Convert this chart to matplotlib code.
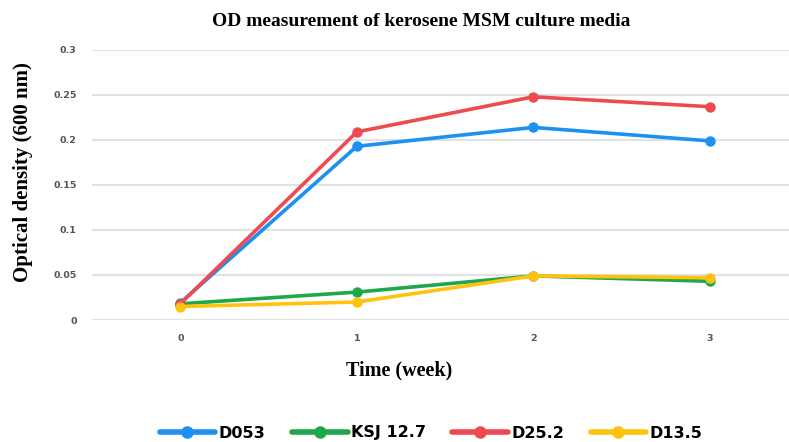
import matplotlib
matplotlib.use("Agg")
import matplotlib.pyplot as plt

weeks = [0, 1, 2, 3]
week_labels = ["0", "1", "2", "3"]
series_names = ["D053", "KSJ 12.7", "D25.2", "D13.5"]
d053 = [0.019, 0.193, 0.214, 0.199]
ksj127 = [0.018, 0.031, 0.049, 0.043]
d252 = [0.018, 0.209, 0.248, 0.237]
d135 = [0.015, 0.020, 0.049, 0.047]
yticks = [0, 0.05, 0.1, 0.15, 0.2, 0.25, 0.3]
ytick_labels = ["0", "0.05", "0.1", "0.15", "0.2", "0.25", "0.3"]

colors = ["#1E90F0", "#1EA84A", "#EE4B50", "#FFC20E"]

W, H = 789, 442
fig = plt.figure(figsize=(W / 100, H / 100), dpi=100)
ax = fig.add_axes([92 / W, 1 - 320 / H, (789 - 92) / W, (320 - 50) / H])

for vals, name, c in zip([d053, ksj127, d252, d135], series_names, colors):
    ax.plot(weeks, vals, color=c, lw=2.6, marker="o", ms=6.5, label=name,
            solid_capstyle="round")

ax.set_xlim(-0.5, 3 + 79 / 176.5)
ax.set_ylim(0, 0.3)
ax.set_yticks(yticks)
ax.set_yticklabels(ytick_labels)
ax.set_xticks(weeks)
ax.set_xticklabels(week_labels)
for s in ax.spines.values():
    s.set_visible(False)
ax.grid(axis="y", color="#E2E2E2", lw=1.5)
ax.set_axisbelow(True)
ax.tick_params(length=0, labelsize=6.8, labelcolor="#555555")
ax.tick_params(axis="y", pad=11)
ax.tick_params(axis="x", pad=10)
for lab in ax.get_xticklabels() + ax.get_yticklabels():
    lab.set_fontfamily("DejaVu Sans")
    lab.set_fontweight("bold")

fig.text(421 / W, 1 - 22 / H, "OD measurement of kerosene MSM culture media",
         ha="center", va="center", family="Liberation Serif", weight="bold", fontsize=14)
fig.text(23 / W, 1 - 172 / H, "Optical density (600 nm)", rotation=90,
         ha="center", va="center", family="Liberation Serif", weight="bold", fontsize=15)
fig.text(399 / W, 1 - 370 / H, "Time (week)", ha="center", va="center",
         family="Liberation Serif", weight="bold", fontsize=14.5)

leg = fig.legend(loc="center", bbox_to_anchor=(431 / W, 1 - 433 / H), ncol=4,
                 frameon=False, handlelength=3.5, columnspacing=1.65, handletextpad=0.2,
                 borderaxespad=0, borderpad=0,
                 prop={"family": "DejaVu Sans", "weight": "bold", "size": 11.5})
for line in leg.get_lines():
    line.set_linewidth(4)
    line.set_markersize(8)

fig.savefig("out.png", dpi=100)
